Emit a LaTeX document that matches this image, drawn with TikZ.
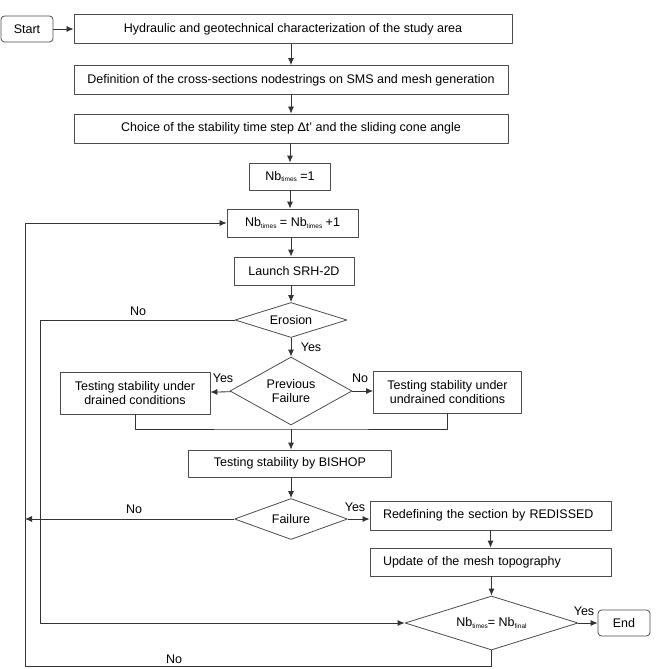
\documentclass[tikz,border=0pt]{standalone}
\usepackage{fontspec}
\setmainfont{Liberation Sans}
\usepackage{tikz}
\usetikzlibrary{shapes.geometric,arrows.meta}
\newcommand{\nbsub}[1]{Nb\raisebox{-0.3ex}{\fontsize{6.5bp}{7bp}\selectfont #1}}
\tikzset{
    box/.style={draw=black!70, line width=0.8bp, rectangle, inner sep=2bp, align=center},
    rbox/.style={box, rounded corners=3.5bp},
    lbox/.style={box, align=left, inner xsep=13bp, text width=215bp},
    dia/.style={draw=black!70, line width=0.8bp, diamond, inner sep=0pt, align=center},
    arr/.style={draw=black!80, line width=0.8bp, -{Latex[length=7bp,width=6bp]}},
    ln/.style={draw=black!80, line width=0.8bp},
    lbl/.style={inner sep=0pt}
}

\begin{document}
\begin{tikzpicture}[x=1bp, y=-1bp, line join=round, font=\fontsize{12.5bp}{14.5bp}\selectfont]
    \useasboundingbox (0,0) rectangle (663,669);
    \node[rbox, minimum width=52bp, minimum height=26bp] (start) at (27,29) {Start};
    \node[box, minimum width=438bp, minimum height=29bp] (hyd) at (293,29) {Hydraulic and geotechnical characterization of the study area};
    \node[box, minimum width=434bp, minimum height=29bp] (def) at (291,80) {Definition of the cross-sections nodestrings on SMS and mesh generation};
    \node[box, minimum width=434bp, minimum height=29bp] (choice) at (291,128.5) {Choice of the stability time step Δt' and the sliding cone angle};
    \node[box, minimum width=81bp, minimum height=27bp] (init) at (290,176.5) {\nbsub{times} =1};
    \node[box, minimum width=131bp, minimum height=28bp] (incr) at (292.5,223) {\nbsub{times} = \nbsub{times} +1};
    \node[box, minimum width=120bp, minimum height=28bp] (launch) at (294,271) {Launch SRH-2D};
    \node[dia, aspect=3, minimum width=112bp, minimum height=35bp] (erosion) at (291,320) {Erosion};
    \node[dia, aspect=1.8, minimum width=122bp, minimum height=68bp] (prev) at (291,391) {Previous\\Failure};
    \node[box, minimum width=150bp, minimum height=42bp] (drained) at (135,393) {Testing stability under\\drained conditions};
    \node[box, minimum width=148bp, minimum height=42bp] (undrained) at (447.5,392) {Testing stability under\\undrained conditions};
    \node[box, minimum width=203bp, minimum height=27bp] (bishop) at (290,463.5) {Testing stability by BISHOP};
    \node[dia, aspect=2.8, minimum width=113bp, minimum height=41bp] (failure) at (291,519) {Failure};
    \node[lbox, minimum height=29bp] (redef) at (490.5,515.5) {Redefining the section by REDISSED};
    \node[lbox, minimum height=28bp] (update) at (490.5,562) {Update of the mesh topography};
    \node[dia, aspect=3, minimum width=173bp, minimum height=54bp] (final) at (491.5,623) {\nbsub{times}= \nbsub{final}};
    \node[rbox, minimum width=52bp, minimum height=26bp] (end) at (624,623) {End};
    \coordinate (merge) at (291,429);
    \coordinate (inner) at (40,623);
    \coordinate (outer) at (25,666);
    \draw[arr] (start) -- (hyd);
    \draw[arr] (def.north |- hyd.south) -- (def.north);
    \draw[arr] (def) -- (choice);
    \draw[arr] (choice.south -| init) -- (init);
    \draw[arr] (init) -- (incr.north -| init);
    \draw[arr] (incr.south -| erosion) -- (launch.north -| erosion);
    \draw[arr] (launch.south -| erosion) -- (erosion);
    \draw[arr] (erosion) -- (prev);
    \draw[arr] (prev) -- (drained);
    \draw[arr] (prev) -- (undrained.west |- prev);
    \draw[ln] (drained.south) |- (merge) -| (undrained.south);
    \draw[arr] (merge) -- (bishop.north -| merge);
    \draw[arr] (bishop.south -| failure) -- (failure);
    \draw[arr] (failure) -- (redef.west |- failure);
    \draw[arr] (failure) -- (failure.west -| outer);
    \draw[arr] (redef.south -| update) -- (update);
    \draw[arr] (update.south -| final) -- (final);
    \draw[arr] (final) -- (end);
    \draw[arr] (erosion) -| (inner) -- (final);
    \draw[arr] (final.south) |- (outer) |- (incr.west);
    \node[lbl] (noErosion) at (138,311) {No};
    \node[lbl] (yesErosion) at (311,347) {Yes};
    \node[lbl] (yesPrev) at (223,378) {Yes};
    \node[lbl] (noPrev) at (360,378) {No};
    \node[lbl] (noFailure) at (134,509) {No};
    \node[lbl] (yesFailure) at (355,507) {Yes};
    \node[lbl] (yesFinal) at (584,611) {Yes};
    \node[lbl] (noFinal) at (174,659) {No};
\end{tikzpicture}
\end{document}
